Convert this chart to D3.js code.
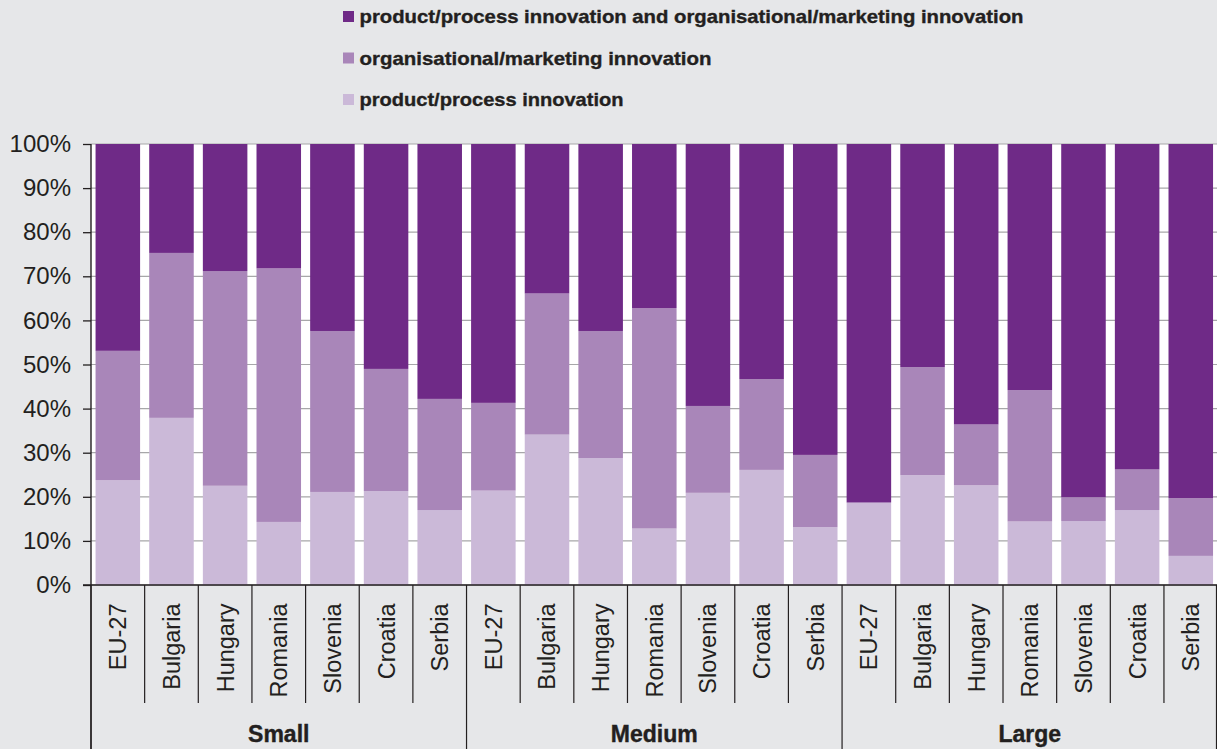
<!DOCTYPE html>
<html>
<head>
<meta charset="utf-8">
<script src="https://cdn.jsdelivr.net/npm/d3@7/dist/d3.min.js"></script>
<style>
  html, body { margin: 0; padding: 0; background: #e6e7e9; }
  svg { display: block; }
</style>
</head>
<body>
<svg id="chart" width="1217" height="749"></svg>
<script>
// ---------------- data ----------------
const groups = ["Small", "Medium", "Large"];
const countries = ["EU-27", "Bulgaria", "Hungary", "Romania", "Slovenia", "Croatia", "Serbia"];
const seriesNames = [
  "product/process innovation and organisational/marketing innovation",
  "organisational/marketing innovation",
  "product/process innovation"
];
// bottom segment: product/process innovation only
const productProcess = [
  23.8, 37.9, 22.5, 14.3, 21.1, 21.3, 17.0,
  21.4, 34.1, 28.8, 12.8, 20.9, 26.1, 13.1,
  18.7, 24.9, 22.6, 14.4, 14.5, 17.0, 6.6
];
// middle segment: organisational/marketing innovation only
const orgMarketing = [
  29.3, 37.4, 48.7, 57.5, 36.5, 27.7, 25.2,
  19.9, 32.0, 28.8, 50.0, 19.7, 20.6, 16.4,
  0.0, 24.5, 13.8, 29.8, 5.4, 9.2, 13.1
];
// top segment: both
const both = [
  46.9, 24.7, 28.8, 28.2, 42.4, 51.0, 57.8,
  58.7, 33.9, 42.4, 37.2, 59.4, 53.3, 70.5,
  81.3, 50.6, 63.6, 55.8, 80.1, 73.8, 80.3
];
const yTicks = [0, 10, 20, 30, 40, 50, 60, 70, 80, 90, 100];

// ---------------- layout ----------------
const colors = { pp: "#cbb9d8", om: "#a986b9", both: "#6f2a87" };
const textColor = "#231f20";
const plotLeft = 91, plotRight = 1217.6, plotTop = 144, plotBottom = 585;

const rows = [];
groups.forEach((g, gi) => countries.forEach((c, ci) => {
  const i = gi * countries.length + ci;
  rows.push({ idx: i, group: g, country: c, pp: productProcess[i], om: orgMarketing[i], both: both[i] });
}));

const svg = d3.select("#chart");

const x = d3.scaleBand().domain(rows.map(d => d.idx)).range([plotLeft, plotRight])
  .paddingInner(0.17).paddingOuter(0.085);
const y = d3.scaleLinear().domain([0, 100]).range([plotBottom, plotTop]);

// plot background
svg.append("rect").attr("x", plotLeft).attr("y", plotTop)
  .attr("width", 1217 - plotLeft).attr("height", plotBottom - plotTop).attr("fill", "#ffffff");

// gridlines
svg.append("g").selectAll("line").data(yTicks).join("line")
  .attr("x1", plotLeft).attr("x2", 1217)
  .attr("y1", d => y(d)).attr("y2", d => y(d))
  .attr("stroke", "#a7a7a9").attr("stroke-width", 1.2);

// stacked bars
const stack = d3.stack().keys(["pp", "om", "both"]);
const layers = stack(rows);
svg.append("g").selectAll("g").data(layers).join("g")
  .attr("fill", d => colors[d.key])
  .selectAll("rect").data(d => d).join("rect")
  .attr("x", d => x(d.data.idx))
  .attr("width", x.bandwidth())
  .attr("y", d => y(d[1]))
  .attr("height", d => y(d[0]) - y(d[1]));

// y axis
const yAxis = d3.axisLeft(y).tickValues(yTicks).tickSize(8).tickPadding(12)
  .tickFormat(d => d + "%");
const gy = svg.append("g").attr("transform", `translate(${plotLeft},0)`).call(yAxis);
gy.select(".domain").remove();
gy.selectAll(".tick line").attr("stroke", textColor).attr("stroke-width", 1.3);
gy.selectAll("text").attr("fill", textColor)
  .style("font-family", "'Liberation Sans', Arial, sans-serif").style("font-size", "24px");

// x axis (country labels)
const xAxis = d3.axisBottom(x).tickSize(0).tickFormat(i => rows[i].country);
const gx = svg.append("g").attr("transform", `translate(0,${plotBottom})`).call(xAxis);
gx.select(".domain").remove();
gx.selectAll("text")
  .attr("transform", "rotate(-90)")
  .attr("x", -18.5).attr("y", 0).attr("dy", "0.36em")
  .attr("text-anchor", "end").attr("fill", textColor)
  .style("font-family", "'Liberation Sans', Arial, sans-serif").style("font-size", "23.5px");

// separators between categories
const half = x.step() * x.paddingInner() / 2;
const bounds = rows.map(d => ({ pos: x(d.idx) - half, major: d.idx % countries.length === 0 }));
bounds.push({ pos: 1216.5, major: true });
svg.append("g").selectAll("line").data(bounds).join("line")
  .attr("x1", d => d.pos).attr("x2", d => d.pos)
  .attr("y1", plotBottom).attr("y2", d => d.major ? 749 : 703)
  .attr("stroke", textColor).attr("stroke-width", 1.2);

// axis lines
svg.append("line").attr("x1", plotLeft).attr("x2", plotLeft).attr("y1", plotTop).attr("y2", 749)
  .attr("stroke", textColor).attr("stroke-width", 1.4);
svg.append("line").attr("x1", plotLeft - 8).attr("x2", 1217).attr("y1", plotBottom).attr("y2", plotBottom)
  .attr("stroke", textColor).attr("stroke-width", 1.4);

// group labels
svg.append("g").selectAll("text").data(groups).join("text")
  .attr("x", (g, gi) => {
    const a = x(gi * countries.length) - half;
    const b = x(gi * countries.length + countries.length - 1) + x.bandwidth() + half;
    return (a + b) / 2;
  })
  .attr("y", 742)
  .attr("text-anchor", "middle").attr("fill", textColor)
  .attr("stroke", textColor).attr("stroke-width", 0.4)
  .style("font-family", "'Liberation Sans', Arial, sans-serif").style("font-weight", "bold")
  .style("font-size", "23px")
  .text(d => d);

// legend
const legendKeys = ["both", "om", "pp"];
const legendWidths = [664, 352, 264];
const lg = svg.append("g").selectAll("g").data(seriesNames).join("g")
  .attr("transform", (d, i) => `translate(343,${23 + i * 41.5})`);
lg.append("rect").attr("x", 0).attr("y", -12).attr("width", 11).attr("height", 11)
  .attr("fill", (d, i) => colors[legendKeys[i]]);
lg.append("text").attr("x", 16.5).attr("y", 0)
  .attr("fill", textColor)
  .attr("stroke", textColor).attr("stroke-width", 0.35)
  .attr("textLength", (d, i) => legendWidths[i]).attr("lengthAdjust", "spacingAndGlyphs")
  .style("font-family", "'Liberation Sans', Arial, sans-serif").style("font-weight", "bold")
  .style("font-size", "18.5px")
  .text(d => d);
</script>
</body>
</html>
